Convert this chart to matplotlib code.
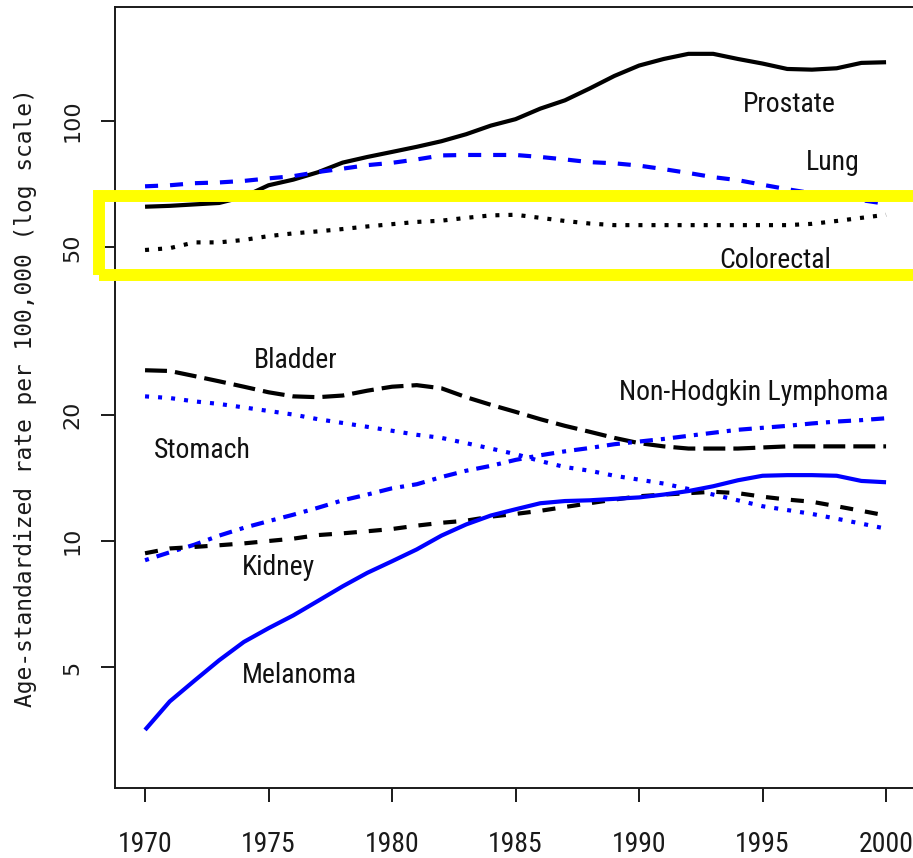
import numpy as np
import matplotlib
matplotlib.use('Agg')
import matplotlib.pyplot as plt
from matplotlib import font_manager
from matplotlib.patches import Rectangle

# age-standardized incidence per 100,000, 1970-2000
years = np.arange(1970, 2001)

prostate = [62.5, 62.8, 63.3, 63.8, 66.0, 70.3, 72.5, 75.5, 79.6, 82.1,
            84.4, 86.8, 89.5, 93.0, 97.5, 101.0, 107.0, 112.0, 119.5, 128.0,
            135.5, 140.5, 144.5, 144.5, 140.5, 137.0, 133.0, 132.5, 133.5, 137.5,
            138.0]
lung = [69.9, 70.3, 71.1, 71.4, 72.0, 73.0, 73.9, 75.6, 77.0, 78.5,
        79.5, 81.0, 82.8, 83.0, 83.0, 83.0, 82.1, 81.0, 79.8, 79.3,
        78.3, 76.8, 75.2, 73.5, 72.3, 70.5, 68.8, 67.3, 66.0, 64.8,
        63.5]
colorectal = [49.3, 49.8, 51.4, 51.4, 52.1, 53.2, 54.0, 54.6, 55.3, 56.1,
              56.8, 57.5, 57.9, 58.8, 59.6, 59.8, 58.8, 57.8, 57.0, 56.5,
              56.5, 56.5, 56.5, 56.5, 56.5, 56.5, 56.5, 56.9, 57.8, 58.8,
              59.8]
bladder = [25.5, 25.4, 24.7, 24.0, 23.3, 22.6, 22.1, 22.0, 22.2, 22.8,
           23.3, 23.5, 23.1, 22.0, 21.1, 20.3, 19.5, 18.8, 18.2, 17.6,
           17.1, 16.8, 16.6, 16.6, 16.6, 16.7, 16.8, 16.8, 16.8, 16.8,
           16.8]
stomach = [22.1, 21.9, 21.5, 21.2, 20.8, 20.4, 20.0, 19.5, 19.1, 18.7,
           18.3, 17.9, 17.6, 17.1, 16.6, 16.1, 15.5, 15.0, 14.7, 14.3,
           14.0, 13.7, 13.3, 12.9, 12.5, 12.1, 11.85, 11.6, 11.3, 11.0,
           10.7]
nhl = [9.0, 9.4, 9.8, 10.3, 10.75, 11.15, 11.55, 12.0, 12.5, 12.9,
       13.35, 13.65, 14.2, 14.7, 15.1, 15.6, 16.0, 16.35, 16.65, 17.0,
       17.25, 17.5, 17.8, 18.1, 18.4, 18.6, 18.8, 19.05, 19.25, 19.4,
       19.6]
kidney = [9.35, 9.6, 9.68, 9.77, 9.87, 10.0, 10.13, 10.33, 10.43, 10.55,
          10.68, 10.88, 11.05, 11.18, 11.43, 11.6, 11.8, 12.05, 12.3, 12.55,
          12.78, 12.9, 13.0, 13.1, 13.0, 12.75, 12.55, 12.4, 12.1, 11.8,
          11.5]
melanoma = [3.55, 4.15, 4.65, 5.2, 5.75, 6.2, 6.65, 7.2, 7.8, 8.4,
            8.95, 9.55, 10.3, 10.95, 11.5, 11.9, 12.3, 12.45, 12.5, 12.6,
            12.7, 12.9, 13.15, 13.5, 13.95, 14.3, 14.35, 14.35, 14.3, 13.9,
            13.8]

y_ticks = [5, 10, 20, 50, 100]
x_ticks = [1970, 1975, 1980, 1985, 1990, 1995, 2000]

# R-like line types, lengths in points
SOLID = None
DASHED = (9.4, 8.6)
LONGDASH = (15.8, 5.8)
DOTTED = (2.9, 6.5)
DOTDASH = (2.9, 5.8, 9.4, 5.8)

series = [
    # values, colour, line type, label, label position (year, rate)
    (prostate, 'black', SOLID, 'Prostate', (1996.1, 105.1)),
    (lung, '#0000ff', DASHED, 'Lung', (1997.85, 76.4)),
    (colorectal, 'black', DOTTED, 'Colorectal', (1995.5, 44.7)),
    (bladder, 'black', LONGDASH, 'Bladder', (1976.1, 25.8)),
    (nhl, '#0000ff', DOTDASH, 'Non-Hodgkin Lymphoma', (1994.65, 21.7)),
    (stomach, '#0000ff', DOTTED, 'Stomach', (1972.3, 15.8)),
    (kidney, 'black', DASHED, 'Kidney', (1975.4, 8.3)),
    (melanoma, '#0000ff', SOLID, 'Melanoma', (1976.25, 4.59)),
]


def pick_narrow_font():
    """find a condensed regular sans face, else fall back to Liberation Sans"""
    wanted = ['Liberation Sans Narrow', 'Roboto Condensed', 'Open Sans Condensed',
              'DejaVu Sans Condensed', 'Noto Sans Condensed']
    bases = ['Liberation Sans', 'Noto Sans', 'Roboto', 'Open Sans', 'DejaVu Sans']
    found = []
    for f in font_manager.fontManager.ttflist:
        if f.style != 'normal' or f.weight not in (400, 'normal', 'regular'):
            continue
        if f.name in wanted:
            found.append((wanted.index(f.name), f.fname))
        elif f.name in bases and f.stretch in ('condensed', 'semi-condensed'):
            found.append((len(wanted) + bases.index(f.name), f.fname))
    if found:
        found.sort()
        return font_manager.FontProperties(fname=found[0][1]), 20
    return font_manager.FontProperties(family='Liberation Sans'), 17.5


label_font, label_size = pick_narrow_font()
label_font.set_size(label_size)

plt.rcParams['lines.scale_dashes'] = False

W, H = 913, 858
fig = plt.figure(figsize=(W / 100, H / 100), dpi=100)
ax = fig.add_axes([115.4 / W, 1 - 788 / H, 800.3 / W, 781 / H])
ax.set_yscale('log')
ax.set_xlim(1968.8, 2001.2)
ax.set_ylim(2.582, 186.8)

for vals, col, ls, name, (lx, ly) in series:
    line, = ax.plot(years, vals, color=col, lw=3.0, solid_capstyle='butt')
    if ls is not None:
        line.set_dashes(ls)
        line.set_dash_capstyle('butt')
    ax.text(lx, ly, name, ha='center', va='baseline', fontproperties=label_font,
            color='#111111')

# highlight box around lung / colorectal band
ax.add_patch(Rectangle((1968.14, 43.0), 36, 66.3 - 43.0, fill=False,
                       edgecolor='#ffff00', lw=8.6, joinstyle='miter',
                       clip_on=False, zorder=10))

ax.set_xticks(x_ticks)
ax.set_xticklabels([str(x) for x in x_ticks], fontproperties=label_font)
ax.set_yticks(y_ticks)
ax.set_yticklabels([str(y) for y in y_ticks], family='DejaVu Sans', fontsize=16,
                   rotation=90, va='center')
ax.yaxis.set_minor_locator(matplotlib.ticker.NullLocator())

ax.tick_params(axis='x', length=10, width=1.4, pad=21, colors='#1a1a1a')
ax.tick_params(axis='y', length=10, width=1.4, pad=14, colors='#1a1a1a')
for sp in ax.spines.values():
    sp.set_linewidth(1.4)
    sp.set_color('#1a1a1a')

ax.set_ylabel('Age-standardized rate per 100,000 (log scale)',
              family='DejaVu Sans Mono', fontsize=16.5, color='#1a1a1a')
ax.yaxis.set_label_coords((37 - 115.4) / 800.3, 0.5)

fig.savefig('out.png', dpi=100)
